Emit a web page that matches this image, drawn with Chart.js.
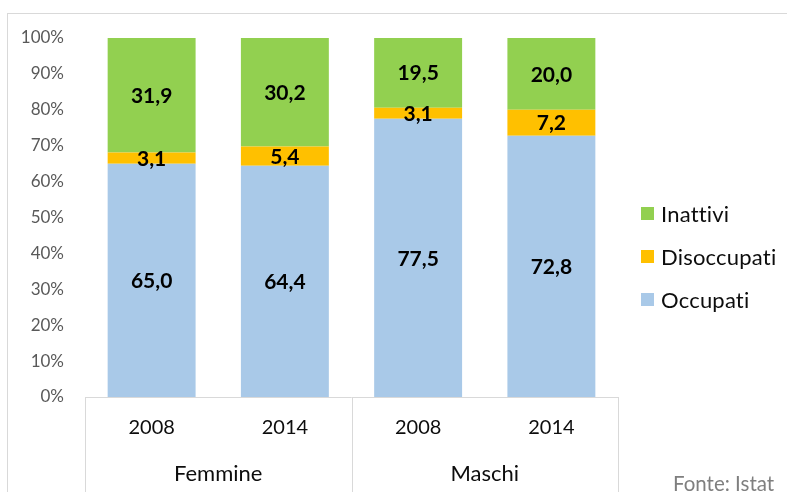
<!DOCTYPE html>
<html>
<head>
<meta charset="utf-8">
<script src="https://cdn.jsdelivr.net/npm/chart.js@4.4.0/dist/chart.umd.min.js"></script>
<style>
  body { margin: 0; background: #fff; }
  #wrap { position: relative; width: 787px; height: 492px; overflow: hidden; }
  #fonte { position: absolute; left: 673px; top: 473px; font-family: Lato; font-size: 20.5px; line-height: 20px; color: #7f7f7f; white-space: nowrap; }
</style>
</head>
<body>
<div id="wrap">
  <canvas id="chart" width="787" height="492"></canvas>
  <div id="fonte">Fonte: Istat</div>
</div>
<script>
// dati (valori %)
var years = ['2008', '2014', '2008', '2014'];
var groups = ['Femmine', 'Maschi'];
var occupati = [65.0, 64.4, 77.5, 72.8];
var disoccupati = [3.1, 5.4, 3.1, 7.2];
var inattivi = [31.9, 30.2, 19.5, 20.0];
var seriesNames = ['Occupati', 'Disoccupati', 'Inattivi'];
var yTickStep = 10;

var colors = ['#a9c9e8', '#ffc000', '#92d050'];

function fmt(v) {
  return v.toFixed(1).replace('.', ',');
}

var decor = {
  id: 'decor',
  beforeDraw: function(chart) {
    var ctx = chart.ctx;
    ctx.save();
    ctx.strokeStyle = '#d9d9d9';
    ctx.lineWidth = 1;
    ctx.strokeRect(7.5, 13.5, 900, 600);
    ctx.restore();
  },
  afterDatasetsDraw: function(chart) {
    var ctx = chart.ctx;
    ctx.save();
    ctx.font = 'bold 21px Lato';
    ctx.fillStyle = '#000';
    ctx.textAlign = 'center';
    ctx.textBaseline = 'middle';
    chart.data.datasets.forEach(function(ds, i) {
      var meta = chart.getDatasetMeta(i);
      meta.data.forEach(function(bar, j) {
        var p = bar.getCenterPoint();
        ctx.fillText(fmt(ds.data[j]), p.x, p.y + 1);
      });
    });
    ctx.restore();
  },
  afterDraw: function(chart) {
    var a = chart.chartArea, ctx = chart.ctx;
    var xs = chart.scales.x;
    ctx.save();
    // assi categoria a due livelli
    ctx.strokeStyle = '#d9d9d9';
    ctx.lineWidth = 1;
    ctx.beginPath();
    ctx.moveTo(a.left, Math.round(a.bottom) + 0.5);
    ctx.lineTo(a.right, Math.round(a.bottom) + 0.5);
    var mid = (xs.getPixelForValue(1) + xs.getPixelForValue(2)) / 2;
    [a.left, mid, a.right].forEach(function(x) {
      x = Math.round(x) + 0.5;
      ctx.moveTo(x, a.bottom);
      ctx.lineTo(x, chart.height);
    });
    ctx.stroke();

    // legenda
    ctx.font = '22px Lato';
    ctx.letterSpacing = '0.2px';
    ctx.textBaseline = 'middle';
    ctx.textAlign = 'left';
    var ds = chart.data.datasets.slice().reverse();
    ds.forEach(function(d, i) {
      var cy = 213.5 + i * 43;
      ctx.fillStyle = d.backgroundColor;
      ctx.fillRect(641, cy - 6.5, 13, 13);
      ctx.fillStyle = '#0d0d0d';
      ctx.fillText(d.label, 661, cy + 1);
    });
    ctx.restore();
  }
};

new Chart(document.getElementById('chart'), {
  type: 'bar',
  data: {
    labels: years,
    datasets: [
      { label: seriesNames[0], data: occupati, backgroundColor: colors[0] },
      { label: seriesNames[1], data: disoccupati, backgroundColor: colors[1] },
      { label: seriesNames[2], data: inattivi, backgroundColor: colors[2] }
    ]
  },
  options: {
    responsive: false,
    animation: false,
    devicePixelRatio: 1,
    layout: { padding: { top: 38, right: 169, bottom: 0, left: 0 } },
    datasets: { bar: { barPercentage: 0.66, categoryPercentage: 1 } },
    plugins: { legend: { display: false }, tooltip: { enabled: false } },
    scales: {
      x: {
        stacked: true,
        grid: { display: false, drawTicks: false },
        border: { display: false },
        ticks: { font: { family: 'Lato', size: 20 }, color: '#0d0d0d', padding: 19, maxRotation: 0, autoSkip: false },
        afterFit: function(s) { s.height = 55; }
      },
      x2: {
        type: 'category',
        labels: groups,
        position: 'bottom',
        offset: true,
        grid: { display: false, drawTicks: false },
        border: { display: false },
        ticks: { font: { family: 'Lato', size: 22 }, color: '#0d0d0d', padding: 9, maxRotation: 0 },
        afterFit: function(s) { s.height = 40; }
      },
      y: {
        stacked: true,
        min: 0,
        max: 100,
        grid: { display: false, drawTicks: false },
        border: { display: false },
        ticks: {
          stepSize: yTickStep,
          padding: 21,
          font: { family: 'Lato', size: 17 },
          color: '#595959',
          callback: function(v) { return v + '%'; }
        },
        afterFit: function(s) { s.width = 85; }
      }
    }
  },
  plugins: [decor]
});
</script>
</body>
</html>
